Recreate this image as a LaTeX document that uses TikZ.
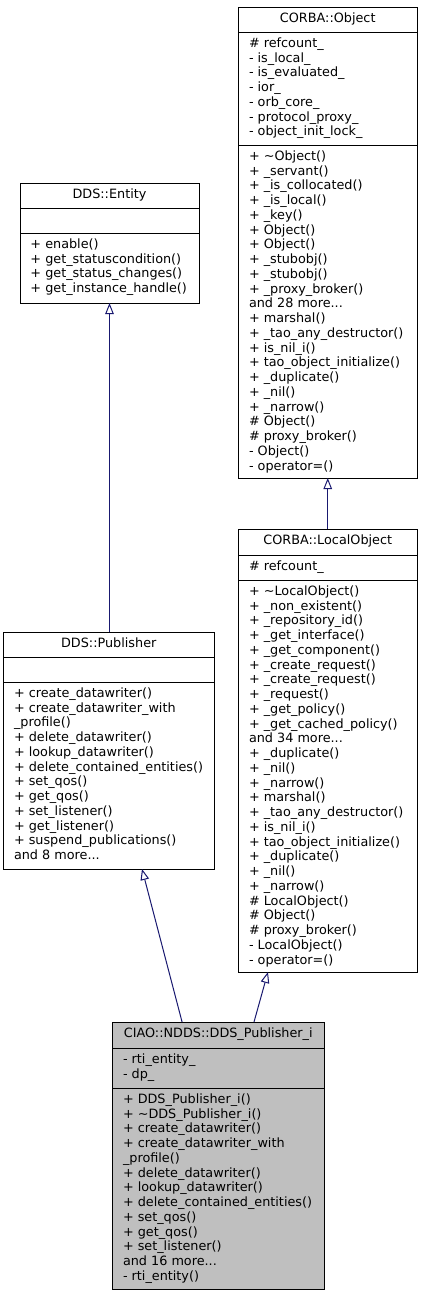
\documentclass[tikz,border=0pt]{standalone}
\usepackage{fontspec}
\setmainfont{DejaVu Sans}
\usetikzlibrary{arrows.meta,calc}
\definecolor{edgeblue}{HTML}{191970}
\definecolor{hlgray}{HTML}{BFBFBF}
\newcommand\tdots{...}
\newcommand\cmplines[4]{%
  \foreach \t [count=\i from 0] in {#4}
    \node[txt] (#3\i) at (#1,{#2+\i*14.75}) {\t};}
\tikzset{
  cls/.style={draw=black, line width=1pt, fill=white, anchor=north west, inner sep=0pt, outer sep=0pt},
  sepline/.style={draw=black, line width=1pt},
  txt/.style={anchor=base west, inner sep=0pt, outer sep=0pt, font=\fontsize{12.8}{14.75}\selectfont},
  ttl/.style={anchor=base, inner sep=0pt, outer sep=0pt, font=\fontsize{12.8}{14.75}\selectfont},
  inh/.style={draw=edgeblue, line width=1pt, -{Triangle[open,fill=white,length=11pt,width=8.5pt]}},
}
\begin{document}
\begin{tikzpicture}[x=1pt,y=-1pt]
\useasboundingbox (0,0) rectangle (423,1296);
\fill[white] (0,0) rectangle (423,1296);

% CORBA::Object
\node[cls, minimum width=178.5pt, minimum height=471pt] (obj) at (238.5,7) {};
\draw[sepline] (238.5,32) -- (417,32);
\draw[sepline] (238.5,145) -- (417,145);
\node[ttl] (objt) at (327.75,22.6) {CORBA::Object};
\cmplines{249}{47.4}{obja}{\# refcount\_, - is\_local\_, - is\_evaluated\_, - ior\_, - orb\_core\_, - protocol\_proxy\_, - object\_init\_lock\_}
\cmplines{249}{160.4}{objm}{+ \textasciitilde Object(), + \_servant(), + \_is\_collocated(), + \_is\_local(), + \_key(), + Object(), + Object(), + \_stubobj(), + \_stubobj(), + \_proxy\_broker(), and 28 more\tdots, + marshal(), + \_tao\_any\_destructor(), + is\_nil\_i(), + tao\_object\_initialize(), + \_duplicate(), + \_nil(), + \_narrow(), \# Object(), \# proxy\_broker(), - Object(), - operator=()}

% DDS::Entity
\node[cls, minimum width=179pt, minimum height=120pt] (entity) at (20,183) {};
\draw[sepline] (20,208) -- (199,208);
\draw[sepline] (20,233) -- (199,233);
\node[ttl] (entityt) at (109.5,198.6) {DDS::Entity};
\cmplines{30.5}{248.4}{entm}{+ enable(), + get\_statuscondition(), + get\_status\_changes(), + get\_instance\_handle()}

% CORBA::LocalObject
\node[cls, minimum width=178.5pt, minimum height=443pt] (local) at (238.5,529) {};
\draw[sepline] (238.5,555) -- (417,555);
\draw[sepline] (238.5,580) -- (417,580);
\node[ttl] (localt) at (327.75,544.6) {CORBA::LocalObject};
\cmplines{249}{570.4}{loca}{\# refcount\_}
\cmplines{249}{595.4}{locm}{+ \textasciitilde LocalObject(), + \_non\_existent(), + \_repository\_id(), + \_get\_interface(), + \_get\_component(), + \_create\_request(), + \_create\_request(), + \_request(), + \_get\_policy(), + \_get\_cached\_policy(), and 34 more\tdots, + \_duplicate(), + \_nil(), + \_narrow(), + marshal(), + \_tao\_any\_destructor(), + is\_nil\_i(), + tao\_object\_initialize(), + \_duplicate(), + \_nil(), + \_narrow(), \# LocalObject(), \# Object(), \# proxy\_broker(), - LocalObject(), - operator=()}

% DDS::Publisher
\node[cls, minimum width=210.5pt, minimum height=237pt] (pub) at (3.5,632) {};
\draw[sepline] (3.5,657) -- (214,657);
\draw[sepline] (3.5,682) -- (214,682);
\node[ttl] (pubt) at (108.75,647.6) {DDS::Publisher};
\cmplines{14}{697.4}{pubm}{+ create\_datawriter(), + create\_datawriter\_with, \_profile(), + delete\_datawriter(), + lookup\_datawriter(), + delete\_contained\_entities(), + set\_qos(), + get\_qos(), + set\_listener(), + get\_listener(), + suspend\_publications(), and 8 more\tdots}

% CIAO::NDDS::DDS_Publisher_i
\node[cls, fill=hlgray, minimum width=211.5pt, minimum height=267pt] (pubi) at (112.5,1022) {};
\draw[sepline] (112.5,1048) -- (324,1048);
\draw[sepline] (112.5,1088) -- (324,1088);
\node[ttl] (pubit) at (218.25,1037.6) {CIAO::NDDS::DDS\_Publisher\_i};
\cmplines{123}{1063.4}{pubia}{- rti\_entity\_, - dp\_}
\cmplines{123}{1103.4}{pubim}{+ DDS\_Publisher\_i(), + \textasciitilde DDS\_Publisher\_i(), + create\_datawriter(), + create\_datawriter\_with, \_profile(), + delete\_datawriter(), + lookup\_datawriter(), + delete\_contained\_entities(), + set\_qos(), + get\_qos(), + set\_listener(), and 16 more\tdots, - rti\_entity()}

% inheritance edges
\draw[inh] (local.north) -- (obj.south);
\draw[inh] (pub.north -| entity.south) -- (entity.south);
\draw[inh] ($(pubi.north west)!0.329!(pubi.north east)$) -- ($(pub.south west)!0.658!(pub.south east)$);
\draw[inh] ($(pubi.north west)!0.669!(pubi.north east)$) -- ($(local.south west)!0.165!(local.south east)$);
\end{tikzpicture}
\end{document}
